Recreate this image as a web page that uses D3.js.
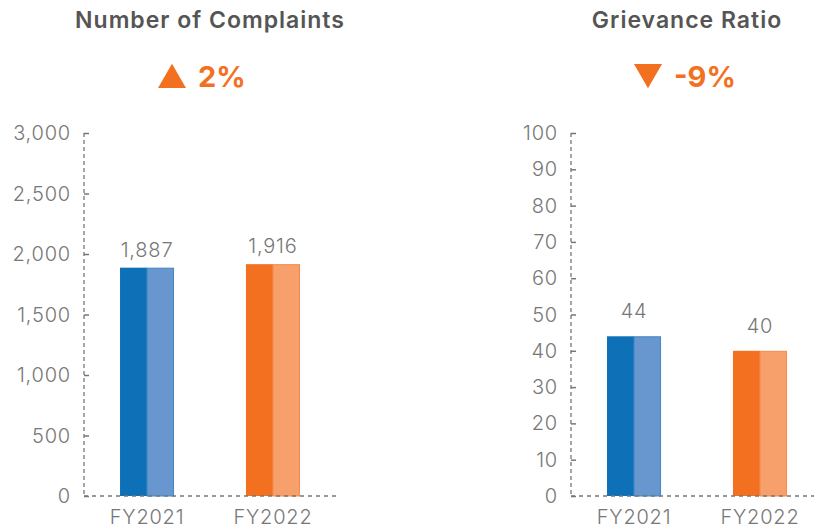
<!DOCTYPE html>
<html>
<head>
<meta charset="utf-8">
<script src="https://cdn.jsdelivr.net/npm/d3@7"></script>
<style>
  body { margin: 0; background: #fff; }
  text { font-family: Inter, "Open Sans", sans-serif; }
  .tick-label, .cat-label, .value-label { fill: #777; font-weight: 300; font-size: 20px; letter-spacing: 0.8px; }
  .title { fill: #555; font-weight: 600; font-size: 23px; letter-spacing: 1px; }
  .change { fill: #f37021; font-weight: 700; font-size: 29px; }
</style>
</head>
<body>
<svg id="canvas"></svg>
<script>
var width = 814,
  height = 529;

var categories = ['FY2021', 'FY2022'],
  complaints = [1887, 1916],
  grievanceRatio = [44, 40],
  complaintTicks = [0, 500, 1000, 1500, 2000, 2500, 3000],
  ratioTicks = [0, 10, 20, 30, 40, 50, 60, 70, 80, 90, 100],
  titles = ['Number of Complaints', 'Grievance Ratio'],
  changes = ['2%', '-9%'],
  changeDirection = ['up', 'down'];

var darkColors = ['#0e71b8', '#f37021'],
  lightColors = ['#6897cf', '#f7a06b'],
  lightStroke = ['#3f86c6', '#f58a4a'];

function drawPanel(svg, opt) {
  var g = svg.append('g');

  var x = d3.scaleBand()
    .domain(categories)
    .range([opt.left, opt.left + 252])
    .paddingInner(0.571)
    .paddingOuter(0.286);

  var y = d3.scaleLinear()
    .domain([0, opt.max])
    .range([496, 133]);

  // TITLE
  g.append('text')
    .attr('class', 'title')
    .attr('x', opt.titleX)
    .attr('y', 28)
    .attr('text-anchor', 'middle')
    .text(opt.title);

  // CHANGE INDICATOR
  g.append('path')
    .attr('d', d3.symbol(d3.symbolTriangle, 340)())
    .attr('fill', '#f37021')
    .attr('transform', opt.dir === 'up'
      ? 'translate(' + opt.triX + ',80)'
      : 'translate(' + opt.triX + ',72) rotate(180)');

  g.append('text')
    .attr('class', 'change')
    .attr('x', opt.triX + 26)
    .attr('y', 87)
    .text(opt.change);

  // Y AXIS
  var yAxis = g.append('g')
    .attr('transform', 'translate(' + opt.left + ',0)')
    .call(d3.axisRight(y).tickValues(opt.ticks).tickSize(5).tickFormat(''));

  yAxis.select('.domain').remove();
  yAxis.selectAll('line').attr('stroke', '#777').attr('stroke-width', 1.5);

  g.append('line')
    .attr('x1', opt.left).attr('x2', opt.left)
    .attr('y1', y(opt.max)).attr('y2', y(0))
    .attr('stroke', '#777')
    .attr('stroke-width', 1.3)
    .attr('stroke-dasharray', '4,3');

  g.selectAll('.tick-label')
    .data(opt.ticks)
    .enter()
    .append('text')
    .attr('class', 'tick-label')
    .attr('x', opt.left - 13)
    .attr('y', function(d) { return y(d) + 7; })
    .attr('text-anchor', 'end')
    .text(d3.format(','));

  // BARS
  var half = x.bandwidth() / 2;
  var bar = g.selectAll('.bar')
    .data(opt.values)
    .enter()
    .append('g')
    .attr('class', 'bar');

  bar.append('rect')
    .attr('x', function(d, i) { return x(categories[i]); })
    .attr('y', function(d) { return y(d); })
    .attr('width', half)
    .attr('height', function(d) { return y(0) - y(d); })
    .attr('fill', function(d, i) { return darkColors[i]; });

  bar.append('rect')
    .attr('x', function(d, i) { return x(categories[i]) + half; })
    .attr('y', function(d) { return y(d) + 0.5; })
    .attr('width', half - 0.5)
    .attr('height', function(d) { return y(0) - y(d) - 0.5; })
    .attr('fill', function(d, i) { return lightColors[i]; })
    .attr('stroke', function(d, i) { return lightStroke[i]; })
    .attr('stroke-width', 1);

  bar.append('text')
    .attr('class', 'value-label')
    .attr('x', function(d, i) { return x(categories[i]) + x.bandwidth() / 2; })
    .attr('y', function(d) { return y(d) - opt.labelGap; })
    .attr('text-anchor', 'middle')
    .text(d3.format(','));

  // BASELINE
  g.append('line')
    .attr('x1', opt.left).attr('x2', opt.left + 252)
    .attr('y1', y(0)).attr('y2', y(0))
    .attr('stroke', '#777')
    .attr('stroke-width', 1.3)
    .attr('stroke-dasharray', '4,4');

  // CATEGORY LABELS
  g.selectAll('.cat-label')
    .data(categories)
    .enter()
    .append('text')
    .attr('class', 'cat-label')
    .attr('x', function(d) { return x(d) + x.bandwidth() / 2; })
    .attr('y', 524)
    .attr('text-anchor', 'middle')
    .text(function(d) { return d; });
}

var svg = d3.select('#canvas')
  .attr('width', width)
  .attr('height', height);

drawPanel(svg, {
  left: 84, max: 3000, ticks: complaintTicks, values: complaints, labelGap: 11,
  title: titles[0], titleX: 210, change: changes[0], dir: changeDirection[0], triX: 172
});

drawPanel(svg, {
  left: 571, max: 100, ticks: ratioTicks, values: grievanceRatio, labelGap: 18,
  title: titles[1], titleX: 687, change: changes[1], dir: changeDirection[1], triX: 648
});
</script>
</body>
</html>
